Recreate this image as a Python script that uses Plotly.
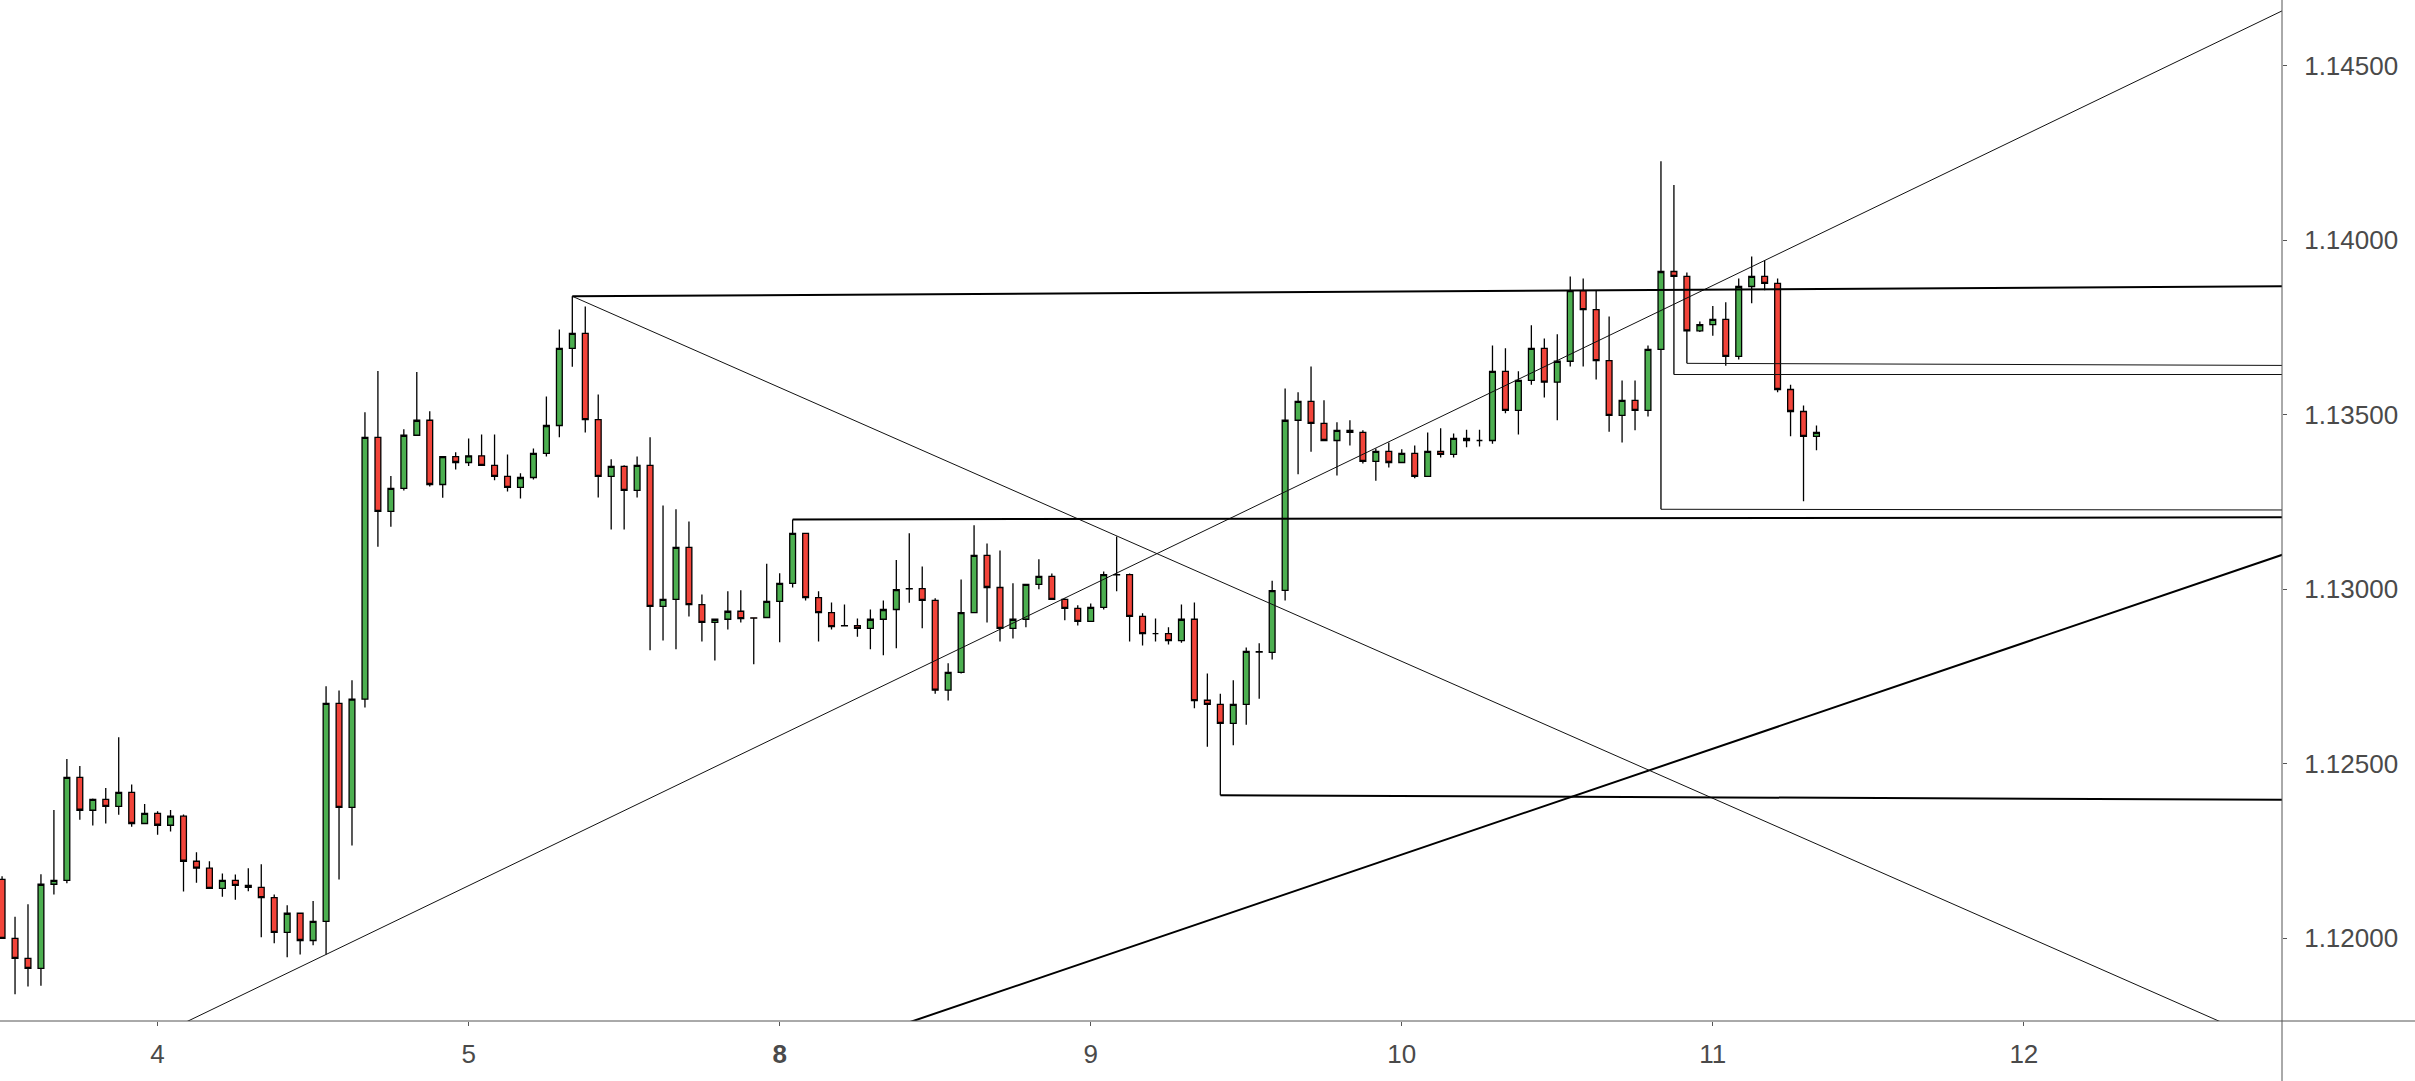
import plotly.graph_objects as go

# ---- candle data (hourly bars; index 0 = first bar of day "4") ----
bar_index = list(range(-12, 129))

opens = [
    1.12169, 1.12000, 1.11943, 1.11914, 1.12155, 1.12166, 1.12461, 1.12367, 1.12398, 1.12378, 1.12418, 1.12329,
    1.12358, 1.12324, 1.12350, 1.12221, 1.12201, 1.12143, 1.12166, 1.12152, 1.12146, 1.12117, 1.12017, 1.12072,
    1.11994, 1.12049, 1.12673, 1.12375, 1.12685, 1.13435, 1.13223, 1.13289, 1.13441, 1.13484, 1.13300, 1.13380,
    1.13363, 1.13382, 1.13355, 1.13323, 1.13292, 1.13320, 1.13389, 1.13469, 1.13690, 1.13733, 1.13486, 1.13323,
    1.13352, 1.13283, 1.13355, 1.12951, 1.12971, 1.13120, 1.12956, 1.12905, 1.12914, 1.12937, 1.12918, 1.12919,
    1.12965, 1.13017, 1.13160, 1.12976, 1.12933, 1.12896, 1.12896, 1.12888, 1.12914, 1.12942, 1.13002, 1.13002,
    1.12968, 1.12711, 1.12762, 1.12933, 1.13097, 1.13005, 1.12888, 1.12914, 1.13014, 1.13037, 1.12971, 1.12945,
    1.12908, 1.12948, 1.13042, 1.13042, 1.12922, 1.12873, 1.12873, 1.12853, 1.12914, 1.12682, 1.12670, 1.12616,
    1.12670, 1.12821, 1.12819, 1.12997, 1.13484, 1.13538, 1.13475, 1.13426, 1.13455, 1.13449, 1.13366, 1.13395,
    1.13363, 1.13389, 1.13323, 1.13395, 1.13386, 1.13432, 1.13426, 1.13426, 1.13624, 1.13512, 1.13598, 1.13690,
    1.13593, 1.13653, 1.13855, 1.13801, 1.13655, 1.13498, 1.13541, 1.13512, 1.13687, 1.13910, 1.13896, 1.13740,
    1.13758, 1.13773, 1.13667, 1.13867, 1.13896, 1.13876, 1.13572, 1.13509, 1.13438,
]
highs = [
    1.12178, 1.12062, 1.12098, 1.12184, 1.12368, 1.12514, 1.12494, 1.12401, 1.12431, 1.12576, 1.12441, 1.12385,
    1.12364, 1.12368, 1.12355, 1.12247, 1.12221, 1.12186, 1.12183, 1.12201, 1.12212, 1.12126, 1.12095, 1.12072,
    1.12107, 1.12722, 1.12710, 1.12739, 1.13507, 1.13625, 1.13324, 1.13458, 1.13622, 1.13510, 1.13380, 1.13392,
    1.13432, 1.13443, 1.13443, 1.13386, 1.13332, 1.13403, 1.13552, 1.13744, 1.13839, 1.13810, 1.13558, 1.13372,
    1.13355, 1.13380, 1.13435, 1.13240, 1.13229, 1.13194, 1.12985, 1.12916, 1.12994, 1.12997, 1.12920, 1.13073,
    1.13046, 1.13200, 1.13160, 1.12994, 1.12962, 1.12956, 1.12916, 1.12942, 1.12968, 1.13084, 1.13160, 1.13065,
    1.12974, 1.12788, 1.13028, 1.13183, 1.13131, 1.13111, 1.13017, 1.13014, 1.13086, 1.13045, 1.12974, 1.12954,
    1.12959, 1.13051, 1.13151, 1.13045, 1.12931, 1.12916, 1.12891, 1.12956, 1.12962, 1.12759, 1.12701, 1.12739,
    1.12833, 1.12845, 1.13024, 1.13575, 1.13564, 1.13638, 1.13541, 1.13478, 1.13484, 1.13455, 1.13403, 1.13420,
    1.13401, 1.13412, 1.13449, 1.13461, 1.13446, 1.13457, 1.13457, 1.13698, 1.13690, 1.13624, 1.13756, 1.13718,
    1.13730, 1.13896, 1.13890, 1.13855, 1.13781, 1.13598, 1.13598, 1.13698, 1.14226, 1.14158, 1.13907, 1.13767,
    1.13811, 1.13822, 1.13890, 1.13953, 1.13942, 1.13890, 1.13586, 1.13526, 1.13469,
]
lows = [
    1.12000, 1.11840, 1.11862, 1.11864, 1.12126, 1.12158, 1.12340, 1.12323, 1.12329, 1.12354, 1.12320, 1.12329,
    1.12297, 1.12306, 1.12134, 1.12159, 1.12143, 1.12119, 1.12111, 1.12135, 1.12003, 1.11986, 1.11946, 1.11954,
    1.11980, 1.11954, 1.12169, 1.12266, 1.12661, 1.13122, 1.13179, 1.13283, 1.13441, 1.13294, 1.13262, 1.13343,
    1.13353, 1.13355, 1.13312, 1.13280, 1.13260, 1.13314, 1.13380, 1.13435, 1.13637, 1.13449, 1.13263, 1.13171,
    1.13171, 1.13263, 1.12825, 1.12853, 1.12828, 1.12922, 1.12850, 1.12796, 1.12885, 1.12905, 1.12785, 1.12919,
    1.12848, 1.13005, 1.12968, 1.12850, 1.12885, 1.12893, 1.12864, 1.12828, 1.12811, 1.12831, 1.12961, 1.12888,
    1.12701, 1.12681, 1.12759, 1.12931, 1.12905, 1.12850, 1.12859, 1.12891, 1.13000, 1.12971, 1.12911, 1.12896,
    1.12908, 1.12942, 1.12994, 1.12850, 1.12839, 1.12850, 1.12842, 1.12847, 1.12659, 1.12549, 1.12410, 1.12553,
    1.12612, 1.12686, 1.12799, 1.12968, 1.13329, 1.13394, 1.13426, 1.13326, 1.13412, 1.13360, 1.13311, 1.13349,
    1.13363, 1.13318, 1.13323, 1.13377, 1.13377, 1.13407, 1.13409, 1.13417, 1.13504, 1.13443, 1.13586, 1.13549,
    1.13484, 1.13638, 1.13638, 1.13601, 1.13451, 1.13420, 1.13455, 1.13495, 1.13229, 1.13615, 1.13647, 1.13737,
    1.13726, 1.13640, 1.13658, 1.13819, 1.13856, 1.13564, 1.13438, 1.13252, 1.13398,
]
closes = [
    1.12000, 1.11943, 1.11914, 1.12155, 1.12166, 1.12461, 1.12367, 1.12398, 1.12378, 1.12418, 1.12329, 1.12358,
    1.12324, 1.12350, 1.12221, 1.12201, 1.12143, 1.12166, 1.12152, 1.12146, 1.12117, 1.12017, 1.12072, 1.11994,
    1.12049, 1.12673, 1.12375, 1.12685, 1.13435, 1.13223, 1.13289, 1.13441, 1.13484, 1.13300, 1.13380, 1.13363,
    1.13382, 1.13355, 1.13323, 1.13292, 1.13320, 1.13389, 1.13469, 1.13690, 1.13733, 1.13486, 1.13323, 1.13352,
    1.13283, 1.13355, 1.12951, 1.12971, 1.13120, 1.12956, 1.12905, 1.12914, 1.12937, 1.12916, 1.12917, 1.12965,
    1.13017, 1.13160, 1.12976, 1.12933, 1.12893, 1.12895, 1.12888, 1.12914, 1.12942, 1.12999, 1.13001, 1.12968,
    1.12711, 1.12762, 1.12933, 1.13097, 1.13005, 1.12888, 1.12914, 1.13014, 1.13037, 1.12971, 1.12945, 1.12908,
    1.12948, 1.13042, 1.13041, 1.12922, 1.12873, 1.12873, 1.12853, 1.12914, 1.12681, 1.12670, 1.12616, 1.12670,
    1.12822, 1.12820, 1.12996, 1.13484, 1.13538, 1.13475, 1.13426, 1.13455, 1.13449, 1.13366, 1.13395, 1.13363,
    1.13389, 1.13323, 1.13395, 1.13386, 1.13432, 1.13426, 1.13426, 1.13624, 1.13512, 1.13598, 1.13690, 1.13593,
    1.13653, 1.13855, 1.13801, 1.13655, 1.13498, 1.13541, 1.13512, 1.13687, 1.13910, 1.13896, 1.13740, 1.13758,
    1.13773, 1.13667, 1.13867, 1.13896, 1.13876, 1.13572, 1.13509, 1.13438, 1.13449,
]

# ---- axis ticks ----
day_tick_positions = [0, 24, 48, 72, 96, 120, 144]
day_tick_labels = ["4", "5", "<b>8</b>", "9", "10", "11", "12"]
price_ticks = [1.12000, 1.12500, 1.13000, 1.13500, 1.14000, 1.14500]
price_tick_labels = ["1.12000", "1.12500", "1.13000", "1.13500", "1.14000", "1.14500"]

x_range = [-12.16, 163.92]
y_range = [1.117634, 1.146876]

# ---- drawings: (bar, price) anchors ----
# extended lines (both directions)
thin_up_line = ([13, 163.9], [1.11954, 1.14656])
thick_up_line = ([58.1, 163.9], [1.11761, 1.13098])
# ray from a point to the right
thin_down_ray = ([32, 159.06], [1.13839, 1.11763])
# horizontal-ish rays (thick)
thick_rays = [
    ([32, 163.92], [1.13839, 1.13868]),
    ([49, 163.92], [1.13200, 1.13206]),
    ([82, 163.92], [1.12410, 1.12397]),
]
# horizontal rays (thin)
thin_rays = [
    ([116, 163.92], [1.13229, 1.13227]),
    ([117, 163.92], [1.13615, 1.13615]),
    ([118, 163.92], [1.13647, 1.13641]),
]


def extend(pts, both=True, xmin=-40, xmax=200):
    (x0, x1), (y0, y1) = pts
    s = (y1 - y0) / (x1 - x0)
    xa = xmin if both else x0
    return [xa, xmax], [y0 + s * (xa - x0), y0 + s * (xmax - x0)]


fig = go.Figure()

fig.add_trace(go.Candlestick(
    x=bar_index, open=opens, high=highs, low=lows, close=closes,
    increasing=dict(line=dict(color="#000000", width=1.3), fillcolor="#4CAF50"),
    decreasing=dict(line=dict(color="#000000", width=1.3), fillcolor="#F2443A"),
    whiskerwidth=0, showlegend=False, hoverinfo="skip",
))

THIN = dict(color="#111111", width=1)
THICK = dict(color="#000000", width=2)

lx, ly = extend(thin_up_line, both=True)
fig.add_trace(go.Scatter(x=lx, y=ly, mode="lines", line=THIN, showlegend=False, hoverinfo="skip"))
lx, ly = extend(thick_up_line, both=True)
fig.add_trace(go.Scatter(x=lx, y=ly, mode="lines", line=THICK, showlegend=False, hoverinfo="skip"))
lx, ly = extend(thin_down_ray, both=False)
fig.add_trace(go.Scatter(x=lx, y=ly, mode="lines", line=THIN, showlegend=False, hoverinfo="skip"))
for r in thick_rays:
    lx, ly = extend(r, both=False)
    fig.add_trace(go.Scatter(x=lx, y=ly, mode="lines", line=THICK, showlegend=False, hoverinfo="skip"))
for r in thin_rays:
    lx, ly = extend(r, both=False)
    fig.add_trace(go.Scatter(x=lx, y=ly, mode="lines", line=THIN, showlegend=False, hoverinfo="skip"))

W, H = 2415, 1081
ML, MR, MT, MB = 0, 133, 0, 60
pw, ph = W - ML - MR, H - MT - MB

AX_COLOR = "#555555"
FONT = dict(family="Liberation Sans, Arial, sans-serif", size=26, color="#4a4a4a")

fig.update_layout(
    width=W, height=H,
    margin=dict(l=ML, r=MR, t=MT, b=MB, pad=0),
    paper_bgcolor="white", plot_bgcolor="white",
    boxgap=0.36,
    font=FONT,
    xaxis=dict(
        range=x_range, showgrid=False, zeroline=False, showline=False,
        tickmode="array", tickvals=day_tick_positions, ticktext=day_tick_labels,
        ticks="outside", ticklen=4, tickwidth=1, tickcolor=AX_COLOR,
        tickfont=FONT, rangeslider=dict(visible=False), automargin=False,
        ticklabelstandoff=6,
    ),
    yaxis=dict(
        range=y_range, side="right", showgrid=False, zeroline=False, showline=False,
        tickmode="array", tickvals=price_ticks, ticktext=price_tick_labels,
        ticks="outside", ticklen=4, tickwidth=1, tickcolor=AX_COLOR,
        tickfont=FONT, automargin=False, ticklabelstandoff=12,
    ),
    shapes=[
        dict(type="line", xref="paper", yref="paper", x0=0, x1=W / pw, y0=0, y1=0,
             line=dict(color=AX_COLOR, width=1)),
        dict(type="line", xref="paper", yref="paper", x0=1, x1=1, y0=-MB / ph, y1=1,
             line=dict(color=AX_COLOR, width=1)),
    ],
)

fig.write_html(
    "out.html",
    config={"displayModeBar": False},
    post_script="document.body.style.margin='0';document.body.style.overflow='hidden';",
)
